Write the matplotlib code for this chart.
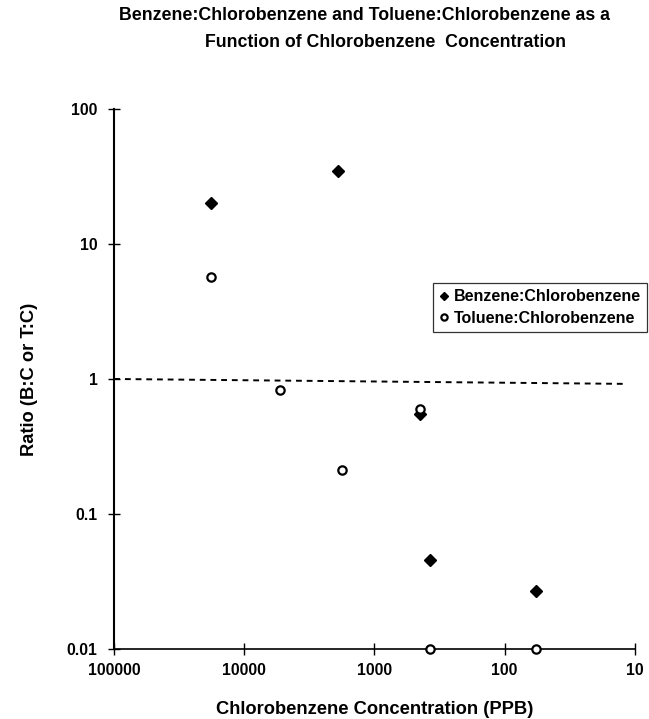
import matplotlib
matplotlib.use("Agg")
import matplotlib.pyplot as plt

# Data
benz_x = [18000, 1900, 450, 375, 57]
benz_y = [20, 35, 0.55, 0.046, 0.027]
tol_x = [18000, 5300, 1770, 450, 375, 57]
tol_y = [5.7, 0.83, 0.21, 0.6, 0.01, 0.01]
ref_x = [100000, 12]
ref_y = [1.0, 0.92]
x_ticks = [100000, 10000, 1000, 100, 10]
x_ticklabels = ["100000", "10000", "1000", "100", "10"]
y_ticks = [0.01, 0.1, 1, 10, 100]
y_ticklabels = ["0.01", "0.1", "1", "10", "100"]

plt.rcParams['font.family'] = ['Liberation Sans', 'DejaVu Sans']
plt.rcParams['font.weight'] = 'bold'

fig = plt.figure(figsize=(6.49, 7.19), dpi=100)
ax = fig.add_axes([0.176, 0.0974, 0.802, 0.751])

ax.plot(ref_x, ref_y, linestyle=(0, (3, 2.5)), color='black', linewidth=1.4, zorder=1)
ax.plot(benz_x, benz_y, linestyle='none', marker='D', markersize=6,
        color='black', label='Benzene:Chlorobenzene', zorder=3)
ax.plot(tol_x, tol_y, linestyle='none', marker='o', markersize=6,
        markerfacecolor='white', markeredgecolor='black', markeredgewidth=1.6,
        label='Toluene:Chlorobenzene', zorder=3, clip_on=False)

ax.set_xscale('log')
ax.set_yscale('log')
ax.set_xlim(100000, 10)
ax.set_ylim(0.01, 100)
ax.set_xticks(x_ticks)
ax.set_xticklabels(x_ticklabels)
ax.set_yticks(y_ticks)
ax.set_yticklabels(y_ticklabels)
ax.minorticks_off()
ax.tick_params(axis='both', direction='inout', length=8, width=1.0, labelsize=11.3)
ax.tick_params(axis='x', pad=6)
ax.tick_params(axis='y', pad=8)
for lab in ax.get_xticklabels() + ax.get_yticklabels():
    lab.set_fontweight('bold')

ax.spines['top'].set_visible(False)
ax.spines['right'].set_visible(False)
ax.spines['left'].set_linewidth(1.5)
ax.spines['bottom'].set_linewidth(1.2)

ax.set_xlabel('Chlorobenzene Concentration (PPB)', fontsize=13.2, fontweight='bold', labelpad=17)
ax.set_ylabel('Ratio (B:C or T:C)', fontsize=13.2, fontweight='bold', labelpad=21)

leg = ax.legend(loc='upper left', bbox_to_anchor=(0.612, 0.678), frameon=True, fancybox=False,
                edgecolor='black', fontsize=11.5, handlelength=0.6, handletextpad=0.3,
                borderpad=0.4, labelspacing=0.4, markerscale=0.75, borderaxespad=0)
leg.get_frame().set_linewidth(0.9)
for t in leg.get_texts():
    t.set_fontweight('bold')

fig.text(0.561, 0.979, 'Benzene:Chlorobenzene and Toluene:Chlorobenzene as a',
         ha='center', va='center', fontsize=12.8, fontweight='bold')
fig.text(0.594, 0.941, 'Function of Chlorobenzene  Concentration',
         ha='center', va='center', fontsize=12.8, fontweight='bold')

fig.savefig('out.png', dpi=100)
